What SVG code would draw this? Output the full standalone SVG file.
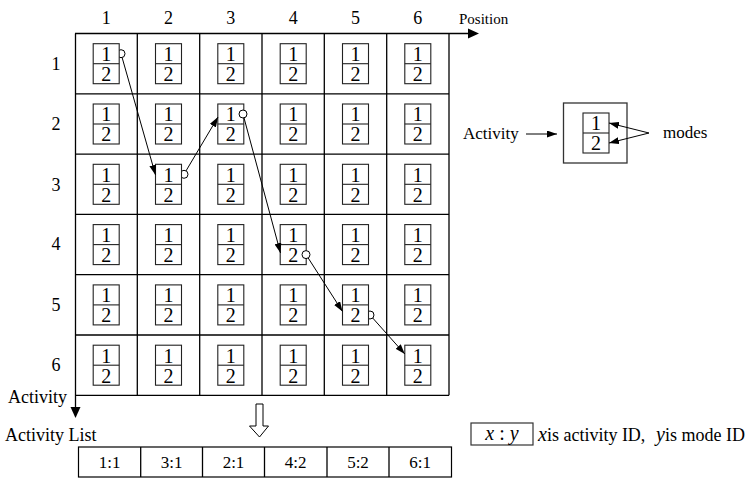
<svg xmlns="http://www.w3.org/2000/svg" width="755" height="480" viewBox="0 0 755 480">
<style>
text{font-family:"Liberation Serif","Times New Roman",serif;fill:#000}
.lbl{font-size:18px}
.num{font-size:18px;text-anchor:middle}
.d{font-size:20px;text-anchor:middle}
.tc{font-size:17px;text-anchor:middle}
.b{fill:#fff;stroke:#222;stroke-width:1.1}
.dv{stroke:#222;stroke-width:1.1}
.g{stroke:#000;stroke-width:1.3;fill:none}
.c{fill:#fff;stroke:#000;stroke-width:1}
.cn{stroke:#000;stroke-width:1;fill:none;marker-end:url(#ah)}
</style>
<defs>
<marker id="ah" viewBox="0 0 10 7" refX="10" refY="3.5" markerWidth="10" markerHeight="7" markerUnits="userSpaceOnUse" orient="auto"><path d="M0,0L10,3.5L0,7z" fill="#000"/></marker>
</defs>
<rect width="755" height="480" fill="#fff"/>
<g id="grid">
<line class="g" x1="75" y1="33.5" x2="469" y2="33.5"/>
<polygon points="468,28.5 479,33.5 468,38.5" fill="#000"/>
<line class="g" x1="75.5" y1="33.5" x2="75.5" y2="408"/>
<polygon points="70.5,407 80.5,407 75.5,418" fill="#000"/>
<line class="g" x1="137.3" y1="33.5" x2="137.3" y2="395.3"/>
<line class="g" x1="199.7" y1="33.5" x2="199.7" y2="395.3"/>
<line class="g" x1="262" y1="33.5" x2="262" y2="395.3"/>
<line class="g" x1="324.3" y1="33.5" x2="324.3" y2="395.3"/>
<line class="g" x1="386.7" y1="33.5" x2="386.7" y2="395.3"/>
<line class="g" x1="449" y1="33.5" x2="449" y2="395.3"/>
<line class="g" x1="75" y1="93.8" x2="449" y2="93.8"/>
<line class="g" x1="75" y1="154.1" x2="449" y2="154.1"/>
<line class="g" x1="75" y1="214.4" x2="449" y2="214.4"/>
<line class="g" x1="75" y1="274.7" x2="449" y2="274.7"/>
<line class="g" x1="75" y1="335" x2="449" y2="335"/>
<line class="g" x1="75" y1="395.3" x2="449" y2="395.3"/>
</g>
<g id="axis-labels">
<text class="num" x="106.2" y="24">1</text>
<text class="num" x="168.5" y="24">2</text>
<text class="num" x="230.8" y="24">3</text>
<text class="num" x="293.2" y="24">4</text>
<text class="num" x="355.5" y="24">5</text>
<text class="num" x="417.8" y="24">6</text>
<text class="lbl" x="459" y="24" style="font-size:15px">Position</text>
<text class="num" x="56" y="70">1</text>
<text class="num" x="56" y="130">2</text>
<text class="num" x="56" y="191">3</text>
<text class="num" x="56" y="250">4</text>
<text class="num" x="56" y="311">5</text>
<text class="num" x="56" y="371">6</text>
<text class="lbl" x="8" y="403">Activity</text>
<text class="lbl" x="5" y="441">Activity List</text>
</g>
<g id="mode-marks-back">
<circle class="c" cx="121" cy="53.7" r="4"/>
<circle class="c" cx="184" cy="174.3" r="4"/>
<circle class="c" cx="370" cy="315" r="4"/>
</g>
<g id="activities">
<g id="n11" transform="translate(106.2,63.7)"><rect class="b" x="-13" y="-20" width="26" height="40"/><line class="dv" x1="-13" y1="0" x2="13" y2="0"/><text class="d" x="0" y="-2.7">1</text><text class="d" x="0" y="17.3">2</text></g>
<g id="n12" transform="translate(168.5,63.7)"><rect class="b" x="-13" y="-20" width="26" height="40"/><line class="dv" x1="-13" y1="0" x2="13" y2="0"/><text class="d" x="0" y="-2.7">1</text><text class="d" x="0" y="17.3">2</text></g>
<g id="n13" transform="translate(230.8,63.7)"><rect class="b" x="-13" y="-20" width="26" height="40"/><line class="dv" x1="-13" y1="0" x2="13" y2="0"/><text class="d" x="0" y="-2.7">1</text><text class="d" x="0" y="17.3">2</text></g>
<g id="n14" transform="translate(293.2,63.7)"><rect class="b" x="-13" y="-20" width="26" height="40"/><line class="dv" x1="-13" y1="0" x2="13" y2="0"/><text class="d" x="0" y="-2.7">1</text><text class="d" x="0" y="17.3">2</text></g>
<g id="n15" transform="translate(355.5,63.7)"><rect class="b" x="-13" y="-20" width="26" height="40"/><line class="dv" x1="-13" y1="0" x2="13" y2="0"/><text class="d" x="0" y="-2.7">1</text><text class="d" x="0" y="17.3">2</text></g>
<g id="n16" transform="translate(417.8,63.7)"><rect class="b" x="-13" y="-20" width="26" height="40"/><line class="dv" x1="-13" y1="0" x2="13" y2="0"/><text class="d" x="0" y="-2.7">1</text><text class="d" x="0" y="17.3">2</text></g>

<g id="n21" transform="translate(106.2,124)"><rect class="b" x="-13" y="-20" width="26" height="40"/><line class="dv" x1="-13" y1="0" x2="13" y2="0"/><text class="d" x="0" y="-2.7">1</text><text class="d" x="0" y="17.3">2</text></g>
<g id="n22" transform="translate(168.5,124)"><rect class="b" x="-13" y="-20" width="26" height="40"/><line class="dv" x1="-13" y1="0" x2="13" y2="0"/><text class="d" x="0" y="-2.7">1</text><text class="d" x="0" y="17.3">2</text></g>
<g id="n23" transform="translate(230.8,124)"><rect class="b" x="-13" y="-20" width="26" height="40"/><line class="dv" x1="-13" y1="0" x2="13" y2="0"/><text class="d" x="0" y="-2.7">1</text><text class="d" x="0" y="17.3">2</text></g>
<g id="n24" transform="translate(293.2,124)"><rect class="b" x="-13" y="-20" width="26" height="40"/><line class="dv" x1="-13" y1="0" x2="13" y2="0"/><text class="d" x="0" y="-2.7">1</text><text class="d" x="0" y="17.3">2</text></g>
<g id="n25" transform="translate(355.5,124)"><rect class="b" x="-13" y="-20" width="26" height="40"/><line class="dv" x1="-13" y1="0" x2="13" y2="0"/><text class="d" x="0" y="-2.7">1</text><text class="d" x="0" y="17.3">2</text></g>
<g id="n26" transform="translate(417.8,124)"><rect class="b" x="-13" y="-20" width="26" height="40"/><line class="dv" x1="-13" y1="0" x2="13" y2="0"/><text class="d" x="0" y="-2.7">1</text><text class="d" x="0" y="17.3">2</text></g>

<g id="n31" transform="translate(106.2,184.3)"><rect class="b" x="-13" y="-20" width="26" height="40"/><line class="dv" x1="-13" y1="0" x2="13" y2="0"/><text class="d" x="0" y="-2.7">1</text><text class="d" x="0" y="17.3">2</text></g>
<g id="n32" transform="translate(168.5,184.3)"><rect class="b" x="-13" y="-20" width="26" height="40"/><line class="dv" x1="-13" y1="0" x2="13" y2="0"/><text class="d" x="0" y="-2.7">1</text><text class="d" x="0" y="17.3">2</text></g>
<g id="n33" transform="translate(230.8,184.3)"><rect class="b" x="-13" y="-20" width="26" height="40"/><line class="dv" x1="-13" y1="0" x2="13" y2="0"/><text class="d" x="0" y="-2.7">1</text><text class="d" x="0" y="17.3">2</text></g>
<g id="n34" transform="translate(293.2,184.3)"><rect class="b" x="-13" y="-20" width="26" height="40"/><line class="dv" x1="-13" y1="0" x2="13" y2="0"/><text class="d" x="0" y="-2.7">1</text><text class="d" x="0" y="17.3">2</text></g>
<g id="n35" transform="translate(355.5,184.3)"><rect class="b" x="-13" y="-20" width="26" height="40"/><line class="dv" x1="-13" y1="0" x2="13" y2="0"/><text class="d" x="0" y="-2.7">1</text><text class="d" x="0" y="17.3">2</text></g>
<g id="n36" transform="translate(417.8,184.3)"><rect class="b" x="-13" y="-20" width="26" height="40"/><line class="dv" x1="-13" y1="0" x2="13" y2="0"/><text class="d" x="0" y="-2.7">1</text><text class="d" x="0" y="17.3">2</text></g>

<g id="n41" transform="translate(106.2,244.6)"><rect class="b" x="-13" y="-20" width="26" height="40"/><line class="dv" x1="-13" y1="0" x2="13" y2="0"/><text class="d" x="0" y="-2.7">1</text><text class="d" x="0" y="17.3">2</text></g>
<g id="n42" transform="translate(168.5,244.6)"><rect class="b" x="-13" y="-20" width="26" height="40"/><line class="dv" x1="-13" y1="0" x2="13" y2="0"/><text class="d" x="0" y="-2.7">1</text><text class="d" x="0" y="17.3">2</text></g>
<g id="n43" transform="translate(230.8,244.6)"><rect class="b" x="-13" y="-20" width="26" height="40"/><line class="dv" x1="-13" y1="0" x2="13" y2="0"/><text class="d" x="0" y="-2.7">1</text><text class="d" x="0" y="17.3">2</text></g>
<g id="n44" transform="translate(293.2,244.6)"><rect class="b" x="-13" y="-20" width="26" height="40"/><line class="dv" x1="-13" y1="0" x2="13" y2="0"/><text class="d" x="0" y="-2.7">1</text><text class="d" x="0" y="17.3">2</text></g>
<g id="n45" transform="translate(355.5,244.6)"><rect class="b" x="-13" y="-20" width="26" height="40"/><line class="dv" x1="-13" y1="0" x2="13" y2="0"/><text class="d" x="0" y="-2.7">1</text><text class="d" x="0" y="17.3">2</text></g>
<g id="n46" transform="translate(417.8,244.6)"><rect class="b" x="-13" y="-20" width="26" height="40"/><line class="dv" x1="-13" y1="0" x2="13" y2="0"/><text class="d" x="0" y="-2.7">1</text><text class="d" x="0" y="17.3">2</text></g>

<g id="n51" transform="translate(106.2,304.9)"><rect class="b" x="-13" y="-20" width="26" height="40"/><line class="dv" x1="-13" y1="0" x2="13" y2="0"/><text class="d" x="0" y="-2.7">1</text><text class="d" x="0" y="17.3">2</text></g>
<g id="n52" transform="translate(168.5,304.9)"><rect class="b" x="-13" y="-20" width="26" height="40"/><line class="dv" x1="-13" y1="0" x2="13" y2="0"/><text class="d" x="0" y="-2.7">1</text><text class="d" x="0" y="17.3">2</text></g>
<g id="n53" transform="translate(230.8,304.9)"><rect class="b" x="-13" y="-20" width="26" height="40"/><line class="dv" x1="-13" y1="0" x2="13" y2="0"/><text class="d" x="0" y="-2.7">1</text><text class="d" x="0" y="17.3">2</text></g>
<g id="n54" transform="translate(293.2,304.9)"><rect class="b" x="-13" y="-20" width="26" height="40"/><line class="dv" x1="-13" y1="0" x2="13" y2="0"/><text class="d" x="0" y="-2.7">1</text><text class="d" x="0" y="17.3">2</text></g>
<g id="n55" transform="translate(355.5,304.9)"><rect class="b" x="-13" y="-20" width="26" height="40"/><line class="dv" x1="-13" y1="0" x2="13" y2="0"/><text class="d" x="0" y="-2.7">1</text><text class="d" x="0" y="17.3">2</text></g>
<g id="n56" transform="translate(417.8,304.9)"><rect class="b" x="-13" y="-20" width="26" height="40"/><line class="dv" x1="-13" y1="0" x2="13" y2="0"/><text class="d" x="0" y="-2.7">1</text><text class="d" x="0" y="17.3">2</text></g>

<g id="n61" transform="translate(106.2,365.2)"><rect class="b" x="-13" y="-20" width="26" height="40"/><line class="dv" x1="-13" y1="0" x2="13" y2="0"/><text class="d" x="0" y="-2.7">1</text><text class="d" x="0" y="17.3">2</text></g>
<g id="n62" transform="translate(168.5,365.2)"><rect class="b" x="-13" y="-20" width="26" height="40"/><line class="dv" x1="-13" y1="0" x2="13" y2="0"/><text class="d" x="0" y="-2.7">1</text><text class="d" x="0" y="17.3">2</text></g>
<g id="n63" transform="translate(230.8,365.2)"><rect class="b" x="-13" y="-20" width="26" height="40"/><line class="dv" x1="-13" y1="0" x2="13" y2="0"/><text class="d" x="0" y="-2.7">1</text><text class="d" x="0" y="17.3">2</text></g>
<g id="n64" transform="translate(293.2,365.2)"><rect class="b" x="-13" y="-20" width="26" height="40"/><line class="dv" x1="-13" y1="0" x2="13" y2="0"/><text class="d" x="0" y="-2.7">1</text><text class="d" x="0" y="17.3">2</text></g>
<g id="n65" transform="translate(355.5,365.2)"><rect class="b" x="-13" y="-20" width="26" height="40"/><line class="dv" x1="-13" y1="0" x2="13" y2="0"/><text class="d" x="0" y="-2.7">1</text><text class="d" x="0" y="17.3">2</text></g>
<g id="n66" transform="translate(417.8,365.2)"><rect class="b" x="-13" y="-20" width="26" height="40"/><line class="dv" x1="-13" y1="0" x2="13" y2="0"/><text class="d" x="0" y="-2.7">1</text><text class="d" x="0" y="17.3">2</text></g>
</g>
<g id="mode-marks-front">
<circle class="c" cx="243" cy="114" r="4"/>
<circle class="c" cx="306" cy="254.6" r="4"/>
</g>
<g id="legend-activity">
<text class="lbl" x="463" y="139" style="font-size:17px">Activity</text>
<rect x="563.5" y="103" width="63.5" height="60" fill="#fff" stroke="#333" stroke-width="1.3"/>
<rect class="b" x="583" y="113" width="26" height="40"/>
<line class="dv" x1="583" y1="133" x2="609" y2="133"/>
<text class="d" x="596" y="130.3">1</text>
<text class="d" x="596" y="150.3">2</text>
<text class="lbl" x="663" y="138" style="font-size:17px">modes</text>
</g>
<g id="activity-list">
<rect x="78.5" y="447" width="373" height="30" fill="#fff" stroke="#000" stroke-width="1.2"/>
<line class="g" x1="140.7" y1="447" x2="140.7" y2="477"/>
<line class="g" x1="202.5" y1="447" x2="202.5" y2="477"/>
<line class="g" x1="264.5" y1="447" x2="264.5" y2="477"/>
<line class="g" x1="327" y1="447" x2="327" y2="477"/>
<line class="g" x1="389" y1="447" x2="389" y2="477"/>
<text class="tc" x="109.6" y="468">1:1</text>
<text class="tc" x="171.6" y="468">3:1</text>
<text class="tc" x="233.5" y="468">2:1</text>
<text class="tc" x="295.7" y="468">4:2</text>
<text class="tc" x="358" y="468">5:2</text>
<text class="tc" x="420.2" y="468">6:1</text>
</g>
<g id="legend-xy">
<rect x="471" y="423" width="62" height="22" fill="#fff" stroke="#333" stroke-width="1.2"/>
<text x="502" y="440" text-anchor="middle" style="font-size:20px"><tspan font-style="italic">x</tspan> : <tspan font-style="italic">y</tspan></text>
<text x="538" y="441" style="font-size:18px"><tspan font-style="italic" style="font-size:20px">x</tspan>is activity ID,<tspan x="656" font-style="italic" style="font-size:20px">y</tspan>is mode ID</text>
</g>
<g id="connectors">
<line class="cn" x1="122.1" y1="57.5" x2="155.5" y2="175"/>
<line class="cn" x1="186" y1="170.9" x2="218" y2="117"/>
<line class="cn" x1="244" y1="117.9" x2="280.5" y2="253"/>
<line class="cn" x1="308.2" y1="258" x2="342.5" y2="311.5"/>
<line class="cn" x1="372.7" y1="318" x2="404.8" y2="354"/>
<line class="cn" x1="526" y1="134" x2="557" y2="134"/>
<line class="cn" x1="649" y1="133" x2="609" y2="123"/>
<line class="cn" x1="649" y1="133" x2="609" y2="143"/>
<polygon points="256,404 263,404 263,426 268.5,426 259.5,437 249.5,426 256,426" fill="#fff" stroke="#000" stroke-width="1"/>
</g>
</svg>
